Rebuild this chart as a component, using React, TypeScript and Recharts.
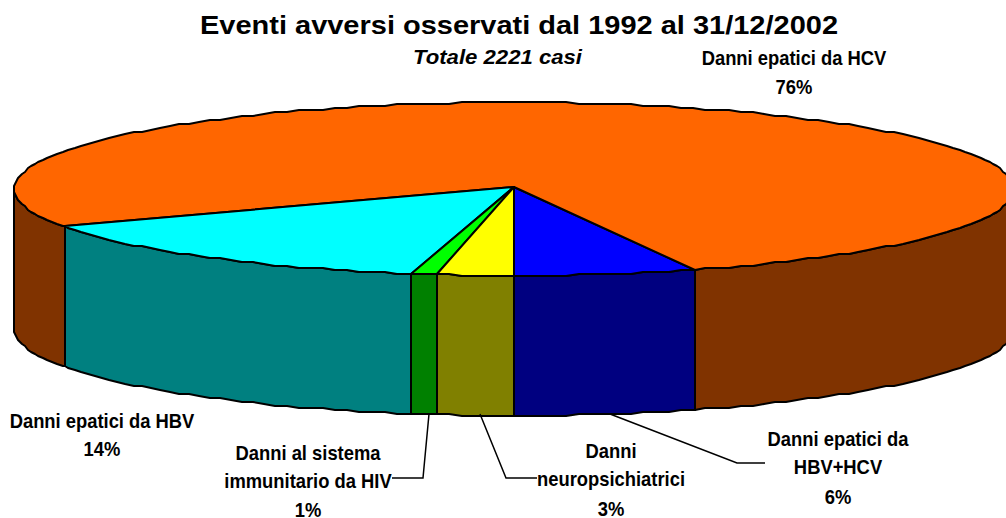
import { PieChart, Pie, Cell } from 'recharts';

// cases per adverse event, going counter-clockwise from the front of the pie
const categories = ['Danni epatici da HBV+HCV', 'Danni epatici da HCV', 'Danni epatici da HBV', 'Danni al sistema immunitario da HIV', 'Danni neuropsichiatrici'];
const cases = [131, 1695, 322, 18, 55];
const topColors = ['#0000ff', '#ff6600', '#00ffff', '#00ff00', '#ffff00'];
const sideColors = ['#000080', '#803300', '#008080', '#008000', '#808000'];

const data = categories.map((name, i) => ({ name, value: cases[i] }));

const TILT = 0.173;
const DEPTH = 140;
const STEP = 1.5;
const APEX_LIFT = 2;
const NARROW_X = 0.875;
const SANS = '"Liberation Sans", Arial, sans-serif';

// label text and leader lines, same order as categories
const labelLayout = [
  { x: 838, lines: ['Danni epatici da', 'HBV+HCV', '6%'], ys: [446, 474, 504], leader: '610,414 737,463 765,463' },
  { x: 794, lines: ['Danni epatici da HCV', '76%'], ys: [65, 94], leader: '' },
  { x: 102, lines: ['Danni epatici da HBV', '14%'], ys: [428, 456], leader: '' },
  { x: 308, lines: ['Danni al sistema', 'immunitario da HIV', '1%'], ys: [460, 488, 517], leader: '429,414 423,478 392,478' },
  { x: 611, lines: ['Danni', 'neuropsichiatrici', '3%'], ys: [458, 486, 516], leader: '480,414 506,478 537,478' },
];

// rim of the tilted disc, sampled coarsely so the edge stays stepped like the original
function rim(cx: number, cy: number, r: number, from: number, to: number) {
  const pts: number[][] = [];
  const add = (deg: number) => {
    const a = (deg * Math.PI) / 180;
    pts.push([Math.round(cx + r * Math.cos(a)), Math.round((cy - r * TILT * Math.sin(a)) / 2) * 2]);
  };
  add(from);
  for (let d = Math.ceil(from / STEP) * STEP; d < to; d += STEP) {
    if (d > from) add(d);
  }
  add(to);
  return pts;
}

function Slice3D(props: any) {
  const { cx, cy, outerRadius, startAngle, endAngle, index } = props;
  const top = rim(cx, cy, outerRadius, startAngle, endAngle);
  const topPath = `M${cx},${cy - APEX_LIFT}L` + top.map((p) => p.join(',')).join('L') + 'Z';

  // only the front half of the disc shows a side wall
  const walls: string[] = [];
  [[-180, 0], [180, 360]].forEach(([lo, hi]) => {
    const from = Math.max(lo, startAngle);
    const to = Math.min(hi, endAngle);
    if (to <= from) return;
    const edge = rim(cx, cy, outerRadius, from, to);
    const lower = edge.map(([x, y]) => [x, y + DEPTH]).reverse();
    walls.push('M' + edge.concat(lower).map((p) => p.join(',')).join('L') + 'Z');
  });

  return (
    <g>
      {walls.map((d) => (
        <path key={d} d={d} fill={sideColors[index]} stroke="#000" strokeWidth={2} strokeLinejoin="round" />
      ))}
      <path d={topPath} fill={topColors[index]} stroke="#000" strokeWidth={2} strokeLinejoin="round" />
    </g>
  );
}

function SliceLabel({ index }: any) {
  const l = labelLayout[index];
  return (
    <g>
      {l.leader && <polyline points={l.leader} fill="none" stroke="#000" strokeWidth={1.5} />}
      {l.lines.map((line, i) => (
        <text
          key={line}
          x={0}
          y={0}
          transform={`translate(${l.x},${l.ys[i]}) scale(${NARROW_X},1)`}
          textAnchor="middle"
          fontFamily={SANS}
          fontWeight="bold"
          fontSize={21}
          fill="#000"
        >
          {line}
        </text>
      ))}
    </g>
  );
}

export default function App() {
  return (
    <div style={{ position: 'absolute', left: 0, top: 0, width: 1006, height: 518, background: '#fff', overflow: 'hidden' }}>
      <PieChart width={1006} height={518} margin={{ top: 0, right: 0, bottom: 0, left: 0 }}>
        <text x={200} y={34} textLength={638} lengthAdjust="spacingAndGlyphs" fontFamily={SANS} fontWeight="bold" fontSize={25} fill="#000">
          Eventi avversi osservati dal 1992 al 31/12/2002
        </text>
        <text x={413} y={64} textLength={169} lengthAdjust="spacingAndGlyphs" fontFamily={SANS} fontWeight="bold" fontStyle="italic" fontSize={21} fill="#000">
          Totale 2221 casi
        </text>
        <Pie
          data={data}
          dataKey="value"
          nameKey="name"
          cx={514}
          cy={189}
          innerRadius={0}
          outerRadius={500}
          startAngle={-90}
          endAngle={270}
          stroke="none"
          shape={Slice3D}
          label={SliceLabel}
          labelLine={false}
          isAnimationActive={false}
        >
          {data.map((d, i) => (
            <Cell key={d.name} fill={topColors[i]} />
          ))}
        </Pie>
      </PieChart>
    </div>
  );
}
